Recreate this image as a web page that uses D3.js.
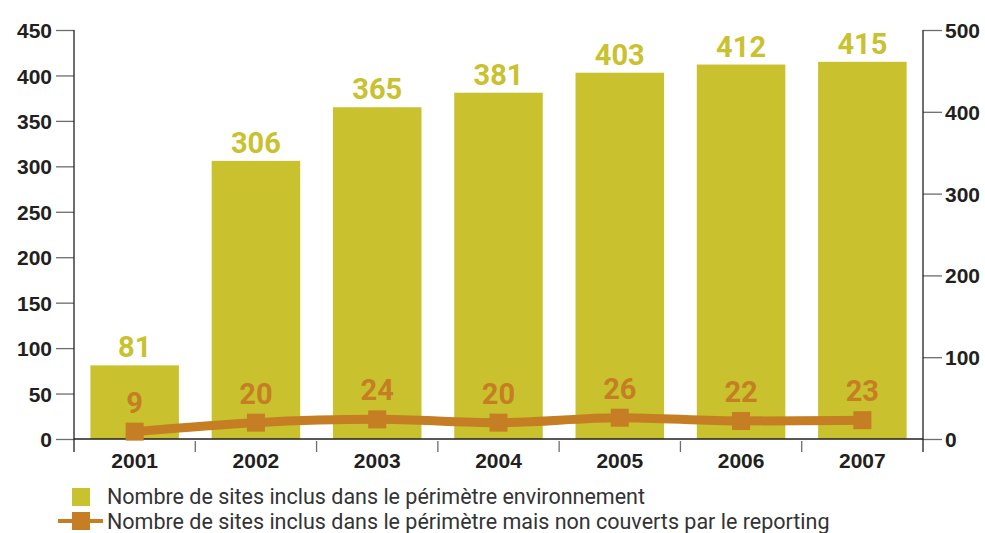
<!DOCTYPE html>
<html>
<head>
<meta charset="utf-8">
<script src="https://cdn.jsdelivr.net/npm/d3@7"></script>
<style>
  body { margin: 0; background: #fff; }
</style>
</head>
<body>
<svg id="chart"></svg>
<script>
var years = ["2001", "2002", "2003", "2004", "2005", "2006", "2007"];
var sites = [81, 306, 365, 381, 403, 412, 415];
var notCovered = [9, 20, 24, 20, 26, 22, 23];
var leftTicks = [0, 50, 100, 150, 200, 250, 300, 350, 400, 450];
var rightTicks = [0, 100, 200, 300, 400, 500];
var legendLabels = [
  "Nombre de sites inclus dans le périmètre environnement",
  "Nombre de sites inclus dans le périmètre mais non couverts par le reporting"
];

var width = 985, height = 533;
var bar_col = "#c9c12e", line_col = "#c57e24", ink = "#231f20";

var svg = d3.select("#chart").attr("width", width).attr("height", height);

var x = d3.scaleBand().domain(years).range([74, 923]).paddingInner(0.27).paddingOuter(0.135);
var yL = d3.scaleLinear().domain([0, 450]).range([439, 30]);
var yR = d3.scaleLinear().domain([0, 500]).range([439, 30]);

// bars
svg.append("g").selectAll("rect")
  .data(sites)
  .enter()
  .append("rect")
  .attr("x", function (d, i) { return x(years[i]); })
  .attr("y", function (d) { return yL(d); })
  .attr("width", x.bandwidth())
  .attr("height", function (d) { return yL(0) - yL(d); })
  .attr("fill", bar_col);

svg.append("g").selectAll("text")
  .data(sites)
  .enter()
  .append("text")
  .attr("x", function (d, i) { return x(years[i]) + x.bandwidth() / 2; })
  .attr("y", function (d) { return yL(d) - 8; })
  .attr("text-anchor", "middle")
  .attr("font-family", "Roboto, sans-serif")
  .attr("font-weight", "bold")
  .attr("font-size", "29px")
  .attr("fill", bar_col)
  .text(function (d) { return d; });

// axes
var leftAxis = svg.append("g").attr("transform", "translate(74,0)")
  .call(d3.axisLeft(yL).tickValues(leftTicks).tickSize(18).tickPadding(4));
var rightAxis = svg.append("g").attr("transform", "translate(923,0)")
  .call(d3.axisRight(yR).tickValues(rightTicks).tickSize(19).tickPadding(3));

[leftAxis, rightAxis].forEach(function (a) {
  a.select(".domain").remove();
  a.selectAll(".tick line").attr("stroke", "#6d6d6d").attr("stroke-width", 1.3);
  a.selectAll(".tick text")
    .attr("font-family", "'Liberation Sans', Arial, sans-serif")
    .attr("font-weight", "bold")
    .attr("font-size", "21px")
    .attr("fill", ink)
    .attr("dy", "0.36em");
});

svg.append("line").attr("x1", 74).attr("x2", 74).attr("y1", 30).attr("y2", 452)
  .attr("stroke", ink).attr("stroke-width", 1.3);
svg.append("line").attr("x1", 923).attr("x2", 923).attr("y1", 30).attr("y2", 452)
  .attr("stroke", ink).attr("stroke-width", 1.3);
svg.append("line").attr("x1", 74).attr("x2", 923).attr("y1", 439).attr("y2", 439)
  .attr("stroke", ink).attr("stroke-width", 1.6);

// category separators + year labels
var step = x.step();
svg.append("g").selectAll("line")
  .data(years.slice(1))
  .enter()
  .append("line")
  .attr("x1", function (d) { return x(d) - (step - x.bandwidth()) / 2; })
  .attr("x2", function (d) { return x(d) - (step - x.bandwidth()) / 2; })
  .attr("y1", 441).attr("y2", 452)
  .attr("stroke", "#6d6d6d").attr("stroke-width", 1.3);

svg.append("g").selectAll("text")
  .data(years)
  .enter()
  .append("text")
  .attr("x", function (d) { return x(d) + x.bandwidth() / 2; })
  .attr("y", 468)
  .attr("text-anchor", "middle")
  .attr("font-family", "'Liberation Sans', Arial, sans-serif")
  .attr("font-weight", "bold")
  .attr("font-size", "21px")
  .attr("fill", ink)
  .text(function (d) { return d; });

// line series
var line = d3.line()
  .x(function (d, i) { return x(years[i]) + x.bandwidth() / 2; })
  .y(function (d) { return yR(d); })
  .curve(d3.curveMonotoneX);

svg.append("path")
  .datum(notCovered)
  .attr("d", line)
  .attr("fill", "none")
  .attr("stroke", line_col)
  .attr("stroke-width", 9);

svg.append("g").selectAll("rect")
  .data(notCovered)
  .enter()
  .append("rect")
  .attr("x", function (d, i) { return x(years[i]) + x.bandwidth() / 2 - 9; })
  .attr("y", function (d) { return yR(d) - 9; })
  .attr("width", 18)
  .attr("height", 18)
  .attr("fill", line_col);

svg.append("g").selectAll("text")
  .data(notCovered)
  .enter()
  .append("text")
  .attr("x", function (d, i) { return x(years[i]) + x.bandwidth() / 2; })
  .attr("y", function (d) { return yR(d) - 19; })
  .attr("text-anchor", "middle")
  .attr("font-family", "Roboto, sans-serif")
  .attr("font-weight", "bold")
  .attr("font-size", "29px")
  .attr("fill", line_col)
  .text(function (d) { return d; });

// legend
var legend = svg.append("g");
legend.append("rect").attr("x", 72).attr("y", 488).attr("width", 18).attr("height", 18).attr("fill", bar_col);
legend.append("line").attr("x1", 58).attr("x2", 103).attr("y1", 521).attr("y2", 521)
  .attr("stroke", line_col).attr("stroke-width", 4);
legend.append("rect").attr("x", 72).attr("y", 512).attr("width", 18).attr("height", 18).attr("fill", line_col);

legend.selectAll("text")
  .data(legendLabels)
  .enter()
  .append("text")
  .attr("x", 107)
  .attr("y", function (d, i) { return 504 + i * 25; })
  .attr("font-family", "Roboto, sans-serif")
  .attr("font-size", "21.5px")
  .attr("fill", "#333")
  .text(function (d) { return d; });
</script>
</body>
</html>
